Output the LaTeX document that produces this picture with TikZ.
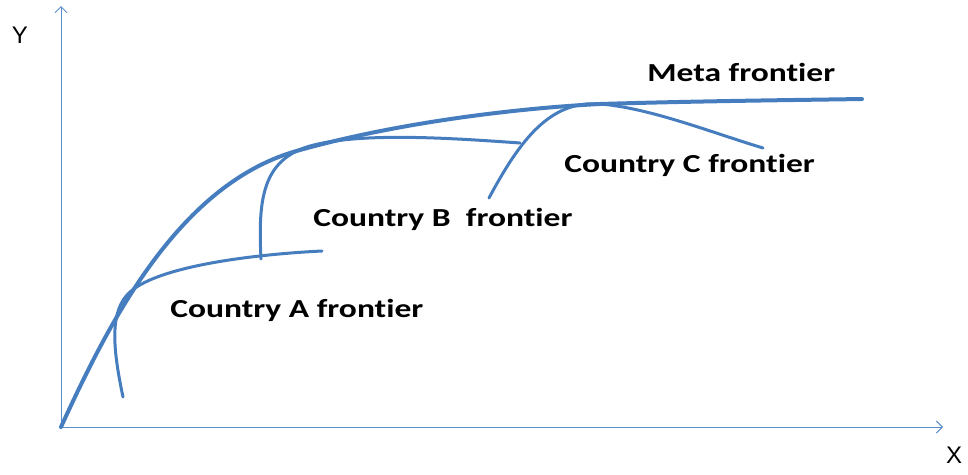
\documentclass[tikz,border=0pt]{standalone}
\usepackage{fontspec}
\setmainfont[Ligatures={NoCommon,NoRequired}]{Carlito}
\newfontfamily\axfont{Liberation Sans}
\usetikzlibrary{arrows.meta}
\begin{document}
\begin{tikzpicture}[x=1pt,y=-1pt,
  axis/.style={line width=1pt, -{Straight Barb[length=6pt,width=12pt]}},
  front/.style={draw=frontblue, line width=3pt, line cap=round},
  meta/.style={draw=frontblue, line width=4pt, line cap=round},
  lab/.style={font=\bfseries\fontsize{26}{26}\selectfont, anchor=base west, inner sep=0pt, xscale=1.29},
  axlab/.style={font=\axfont\fontsize{24}{24}\selectfont, inner sep=0pt}]
\useasboundingbox (0,0) rectangle (968,474);
\definecolor{frontblue}{RGB}{70,125,190}
\definecolor{axblue}{RGB}{90,140,200}
\coordinate (O) at (61,427);
\coordinate (Ytop) at (61,6);
\coordinate (Xend) at (943,427);
\draw[axis, draw=axblue] (61,427) -- (Ytop);
\draw[axis, draw=axblue] (O) -- (Xend);
\node[axlab] (ylab) at (20,35) {Y};
\node[axlab] (xlab) at (954,455) {X};
% meta frontier
\draw[meta] (O) .. controls (110,320) and (180,182) .. (300,150)
  .. controls (400,122) and (520,108) .. (600,104)
  .. controls (700,101) and (800,100) .. (862,99);
% country A
\draw[front] (123,397) .. controls (112,345) and (110,310) .. (130,292)
  .. controls (160,265) and (260,254) .. (322,251);
% country B
\draw[front] (261,259) .. controls (258,200) and (262,160) .. (310,146)
  .. controls (360,132) and (450,138) .. (520,143);
% country C
\draw[front] (489,198) .. controls (520,140) and (550,100) .. (600,104)
  .. controls (650,108) and (710,132) .. (763,148);
\node[lab] (meta) at (647,81) {Meta frontier};
\node[lab] (cc) at (564,172) {Country C frontier};
\node[lab] (cb) at (313,226) {Country B\ \ frontier};
\node[lab] (ca) at (170,317) {Country A frontier};
\end{tikzpicture}
\end{document}
